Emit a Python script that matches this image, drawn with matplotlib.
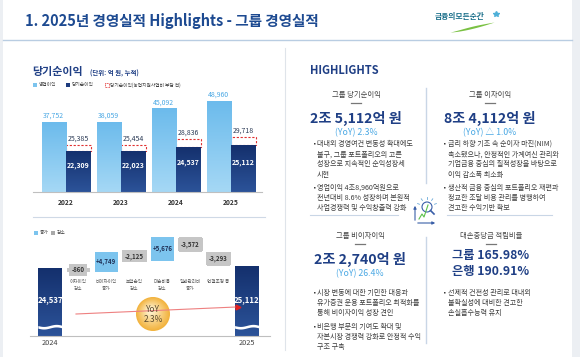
import numpy as np
import matplotlib
matplotlib.use('Agg')
import matplotlib.pyplot as plt
from matplotlib.patches import Rectangle, Circle
from matplotlib.colors import to_rgb

plt.rcParams['font.family'] = ['Noto Sans CJK KR', 'DejaVu Sans']

# --- data -------------------------------------------------------------
years = ['2022', '2023', '2024', '2025']
op_income = [37752, 38059, 45092, 48960]          # 영업이익
net_income = [22309, 22023, 24537, 25112]         # 당기순이익
net_before = [25385, 25454, 28836, 29718]         # 당기순이익(농업지원사업비 부담 전)

wf_start, wf_end = 24537, 25112
wf_years = ['2024', '2025']
wf_steps = [-860, 4749, -2125, 5676, -3572, -3293]
wf_labels = ['이자이익\n감소', '비이자이익\n증가', '보험손익\n감소',
             '대손비용\n감소', '일반관리비\n증가', '연결조정 등']

q1_bullets = [["대내외 경영여건 변동성 확대에도", "불구, 그룹 포트폴리오의 고른",
               "성장으로 지속적인 순익성장세", "시현"],
              ["영업이익 4조8,960억원으로", "전년대비 8.6% 성장하며 본원적",
               "사업경쟁력 및 수익창출력 강화"]]
q2_bullets = [["금리 하향 기조 속 순이자 마진(NIM)", "축소됐으나, 안정적인 가계여신 관리와",
               "기업금융 중심의 질적성장을 바탕으로", "이익 감소폭 최소화"],
              ["생산적 금융 중심의 포트폴리오 재편과", "정교한 조달 비용 관리를 병행하여",
               "견고한 수익기반 확보"]]
q3_bullets = [["시장 변동에 대한 기민한 대응과", "유가증권 운용 포트폴리오 최적화를",
               "통해 비이자이익 성장 견인"],
              ["비은행 부문의 기여도 확대 및", "자본시장 경쟁력 강화로 안정적 수익",
               "구조 구축"]]
q4_bullets = [["선제적 건전성 관리로 대내외", "불확실성에 대비한 견고한",
               "손실흡수능력 유지"]]

# --- colours ----------------------------------------------------------
NAVY = '#1f3f85'
LIGHT = '#7cc4ee'
DARK = '#1d3c7e'
SKY_TXT = '#4aa8e4'
GREY_BOX = '#c6c6c6'
TXT = '#3d3d3d'

W, H = 580, 357
fig = plt.figure(figsize=(W / 100, H / 100), dpi=100)
fig.patch.set_facecolor('white')

# background axes in pixel coordinates
bg = fig.add_axes([0, 0, 1, 1])
bg.set_xlim(0, W)
bg.set_ylim(H, 0)
bg.axis('off')


def px_axes(x0, y0, x1, y1):
    a = fig.add_axes([x0 / W, 1 - y1 / H, (x1 - x0) / W, (y1 - y0) / H])
    a.set_facecolor('none')
    return a


def shade(ax, bars, top, bottom):
    # vertical gradient fill clipped to each bar
    c1, c2 = np.array(to_rgb(top)), np.array(to_rgb(bottom))
    grad = np.linspace(0, 1, 64)[:, None, None]
    img = c1 * (1 - grad) + c2 * grad
    lims = ax.get_xlim(), ax.get_ylim()
    for b in bars:
        x0, y0 = b.get_x(), b.get_y()
        im = ax.imshow(img, extent=(x0, x0 + b.get_width(), y0, y0 + b.get_height()),
                       aspect='auto', origin='upper', zorder=b.get_zorder())
        im.set_clip_path(b)
    ax.set_xlim(lims[0])
    ax.set_ylim(lims[1])


# frame strips / separators
bg.add_patch(Rectangle((0, 0), 3, H, color='#eceff3', lw=0))
bg.add_patch(Rectangle((572, 0), 8, H, color='#eceff3', lw=0))
bg.plot([3, 572], [40, 40], color='#b9cde2', lw=1)
bg.plot([285, 285], [48, 350], color='#dfe4ea', lw=0.8)

# title and logo
bg.text(25, 21, '1. 2025년 경영실적 Highlights - 그룹 경영실적', fontsize=10.5,
        fontweight='bold', color='#1d4a91', va='center')
bg.text(435, 17, '금융의모든순간', fontsize=5.6, fontweight='bold', color='#1a6f8a',
        va='center')
t = np.linspace(0, 1, 30)
bg.fill_between(450 + 44 * t, 32 - 10 * t ** 1.5 - 2.2 * np.sin(np.pi * t),
                32 - 10 * t ** 1.5, color='#7ac143', lw=0)
bg.plot([496], [14], marker='*', ms=4, color='#4fb0d8')

# --- bar chart: 당기순이익 --------------------------------------------
bg.text(32, 72, '당기순이익', fontsize=7.9, fontweight='bold', color=NAVY, va='center')
bg.text(90, 73, '(단위: 억 원, 누적)', fontsize=4.6, fontweight='bold', color=NAVY, va='center')

bg.add_patch(Rectangle((33, 83), 3.5, 3.5, color=LIGHT, lw=0))
bg.text(38.5, 85, '영업이익', fontsize=3.4, color=TXT, va='center')
bg.add_patch(Rectangle((66, 83), 3.5, 3.5, color=DARK, lw=0))
bg.text(71.5, 85, '당기순이익', fontsize=3.4, color=TXT, va='center')
bg.add_patch(Rectangle((105, 83), 3.5, 3.5, fill=False, ec='#e03030', lw=0.6, ls=(0, (1, 0.8))))
bg.text(110.5, 85, '당기순이익(농업지원사업비 부담 전)', fontsize=3.4, color=TXT, va='center')

bc = px_axes(33, 92, 262, 192)
x = np.arange(len(years))
off, bw = 0.223, 0.445
lb = bc.bar(x - off, op_income, bw, color=LIGHT, lw=0)
db = bc.bar(x + off, net_income, bw, color=DARK, lw=0)
gap = np.array(net_before) - np.array(net_income)
bc.bar(x + off, gap, bw, bottom=net_income, fill=False, edgecolor='#e03030',
       lw=0.8, ls=(0, (2, 1.5)))
for i in range(len(years)):
    bc.text(x[i] - off, op_income[i] + 1200, f'{op_income[i]:,}', ha='center', va='bottom',
            fontsize=5, color=SKY_TXT)
    bc.text(x[i] + off, net_before[i] + 1300, f'{net_before[i]:,}', ha='center', va='bottom',
            fontsize=5, color='#2b3a55')
    bc.text(x[i] + off, net_income[i] * 0.64, f'{net_income[i]:,}', ha='center', va='center',
            fontsize=5, color='white', fontweight='bold', zorder=5)
bc.set_xlim(-0.6, 3.56)
bc.set_ylim(0, 54000)
shade(bc, lb, '#6cbbec', '#a5d8f5')
shade(bc, db, '#14306d', '#2c5399')
bc.set_xticks(x, years, fontsize=4.8, fontweight='bold', color='#333333')
bc.tick_params(axis='x', length=0, pad=5)
bc.set_yticks([])
for s in ['top', 'left', 'right']:
    bc.spines[s].set_visible(False)
bc.spines['bottom'].set_color('#bfbfbf')
bc.spines['bottom'].set_linewidth(0.8)

bg.plot([33, 265], [217, 217], color='#cfd9e6', lw=0.8)

# --- waterfall -------------------------------------------------------
bg.add_patch(Rectangle((34, 231), 3.5, 3.5, color=LIGHT, lw=0))
bg.text(39.5, 233, '증가', fontsize=3.4, color=TXT, va='center')
bg.add_patch(Rectangle((51, 231), 3.5, 3.5, color='#a9a9a9', lw=0))
bg.text(56.5, 233, '감소', fontsize=3.4, color=TXT, va='center')

scale = 0.0042                       # px per 억 원
y0 = wf_start - 68 / scale           # axis floor (truncated bars)
wf = px_axes(30, 226, 270, 336)
wf.set_ylim(y0, y0 + 110 / scale)
wf.set_xlim(-0.71, 7.83)

n = len(wf_steps)
tot_x = [0, n + 1]
tot_v = np.array([wf_start, wf_end])
tb = wf.bar(tot_x, tot_v - y0, 0.85, bottom=y0, color=DARK, lw=0)
shade(wf, tb, '#14306d', '#2c5399')
levels = wf_start + np.cumsum(wf_steps)
prev = np.concatenate([[wf_start], levels[:-1]])
for i, st in enumerate(wf_steps):
    xi = i + 1
    lo = min(prev[i], levels[i])
    col = LIGHT if st > 0 else GREY_BOX
    wf.bar(xi, abs(st), 0.82, bottom=lo, color=col, lw=0)
    lab = f'{st:+,}'
    mid = lo + abs(st) / 2
    if st > 0:
        wf.text(xi, mid, lab, ha='center', va='center', fontsize=4.4,
                fontweight='bold', color='#1e2f55')
    else:
        wf.text(xi, mid, lab, ha='center', va='center', fontsize=4.4,
                fontweight='bold', color='#333333',
                bbox=dict(boxstyle='square,pad=0.45', fc=GREY_BOX, ec='none'))
    wf.text(xi, 0.515, wf_labels[i], transform=wf.get_xaxis_transform(), ha='center',
            va='top', fontsize=3.3, color='#555555', linespacing=1.3)

for xi, v in zip(tot_x, tot_v):
    wf.text(xi, 0.33, f'{v:,}', transform=wf.get_xaxis_transform(), ha='center',
            va='center', fontsize=5.6, fontweight='bold', color='white', zorder=5)
    # broken-bar wave
    xs = np.linspace(xi - 0.43, xi + 0.43, 40)
    yb = y0 + 8 / scale + 250 * np.sin((xs - xi) * 7)
    wf.fill_between(xs, yb, yb + 2.6 / scale, color='white', lw=0, zorder=4)

wf.set_xticks(tot_x, wf_years, fontsize=5.3, color='#444444')
wf.tick_params(axis='x', length=0, pad=2.5)
wf.set_yticks([])
for s in ['top', 'left', 'right']:
    wf.spines[s].set_visible(False)
wf.spines['bottom'].set_color('#bfbfbf')
wf.spines['bottom'].set_linewidth(0.8)

# YoY trend line and badge
tr = px_axes(0, 0, W, H)
tr.set_xlim(0, W)
tr.set_ylim(H, 0)
tr.axis('off')
tr.plot([76, 236], [314, 307], color='#ee8080', lw=0.8)
tr.plot([238], [307], marker='>', ms=3.5, color='#e02020', lw=0)
cx, cy = 153, 314
for k, r in enumerate(np.linspace(17, 1, 20)):
    f = k / 19
    c = np.array([0.95, 0.70, 0.24]) * (1 - f) + np.array([1.0, 0.97, 0.86]) * f
    tr.add_patch(Circle((cx - 3 * f, cy - 4 * f), r, color=c, lw=0))
tr.text(cx, cy - 5, 'YoY', ha='center', va='center', fontsize=6, color='#5b4a2e')
tr.text(cx, cy + 6, '2.3%', ha='center', va='center', fontsize=6, color='#5b4a2e')

# --- highlights -------------------------------------------------------
bg.text(310, 70, 'HIGHLIGHTS', fontsize=8, fontweight='bold', color=NAVY, va='center')
bg.plot([426, 426], [88, 183], color='#c9d6e6', lw=1)
bg.plot([426, 426], [237, 343], color='#c9d6e6', lw=1)
bg.plot([310, 398], [215, 215], color='#c9d6e6', lw=0.8)
bg.plot([447, 552], [215, 215], color='#c9d6e6', lw=0.8)

# small chart icon
bg.annotate('', xy=(415, 203), xytext=(415, 223),
            arrowprops=dict(arrowstyle='-|>', color='#3a5fa8', lw=0.8, mutation_scale=4))
bg.annotate('', xy=(438, 223), xytext=(415, 223),
            arrowprops=dict(arrowstyle='-|>', color='#3a5fa8', lw=0.8, mutation_scale=4))
bg.plot([419, 422, 424, 428], [219, 214, 217, 205], color='#5cc24a', lw=0.8)
bg.add_patch(Circle((427, 207), 5, fill=False, ec='#3a5fa8', lw=0.8))
bg.plot([430.5, 434], [210.5, 214], color='#3a5fa8', lw=1.2)
for ang in np.linspace(200, 340, 5):
    a = np.radians(ang)
    bg.plot([427 + 8 * np.cos(a), 427 + 10 * np.cos(a)],
            [207 + 8 * np.sin(a), 207 + 10 * np.sin(a)], color='#6aa9d8', lw=0.6)


def quadrant(cx, ty, title, big, yoy, bx, by, bullets, big2=None):
    bg.text(cx, ty, title, ha='center', va='center', fontsize=5.3, color='#444444')
    bg.plot([cx - 5, cx + 5], [ty + 8, ty + 8], color='#777777', lw=0.9)
    if big2 is None:
        bg.text(cx, ty + 23, big, ha='center', va='center', fontsize=10.2,
                fontweight='bold', color=NAVY)
        bg.text(cx, ty + 38, yoy, ha='center', va='center', fontsize=6.3, color=SKY_TXT)
    else:
        bg.text(cx, ty + 20, big, ha='center', va='center', fontsize=8.8,
                fontweight='bold', color=NAVY)
        bg.text(cx, ty + 36, big2, ha='center', va='center', fontsize=8.8,
                fontweight='bold', color=NAVY)
    y = by
    for blk in bullets:
        bg.text(bx - 5.5, y, '▪', va='center', fontsize=4, color=TXT)
        for line in blk:
            bg.text(bx, y, line, va='center', fontsize=5.1, color=TXT)
            y += 10.2
        y += 3


quadrant(356, 95, '그룹 당기순이익', '2조 5,112억 원', '(YoY) 2.3%', 317, 144, q1_bullets)
quadrant(490, 95, '그룹 이자이익', '8조 4,112억 원', '(YoY) △ 1.0%', 448, 144, q2_bullets)
quadrant(360, 236, '그룹 비이자이익', '2조 2,740억 원', '(YoY) 26.4%', 317, 293, q3_bullets)
quadrant(491, 236, '대손충당금 적립비율', '그룹 165.98%', None, 448, 293, q4_bullets,
         big2='은행 190.91%')

fig.savefig('out.png', dpi=100)
